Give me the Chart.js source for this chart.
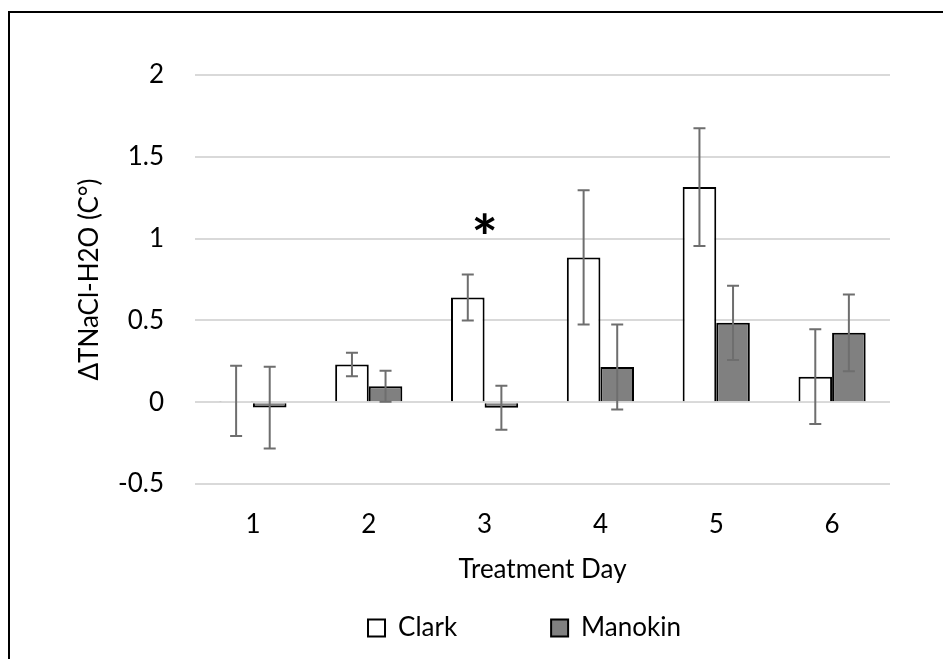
<!DOCTYPE html>
<html>
<head>
<meta charset="utf-8">
<script src="https://cdn.jsdelivr.net/npm/chart.js@4/dist/chart.umd.min.js"></script>
<style>
  html, body { margin: 0; padding: 0; background: #fff; overflow: hidden; }
  #frame { position: absolute; left: 8px; top: 11px; width: 2000px; height: 2000px;
           border-top: 2px solid #000; border-left: 2px solid #000; }
  #chart { position: absolute; left: 0; top: 0; }
</style>
</head>
<body>
<div id="frame"></div>
<canvas id="chart" width="1049" height="651"></canvas>
<script>
// Treatment days on the x axis
const days = ['1', '2', '3', '4', '5', '6'];

// Mean change and error per cultivar
const clarkValues = [0.008, 0.23, 0.64, 0.885, 1.315, 0.156];
const clarkErrors = [0.215, 0.072, 0.14, 0.41, 0.36, 0.29];
const manokinValues = [-0.033, 0.098, -0.034, 0.215, 0.485, 0.424];
const manokinErrors = [0.25, 0.095, 0.135, 0.26, 0.227, 0.235];

// Significance marks
const sigDays = ['3'];
const sigLevels = [1.09];

const fontFamily = 'Lato, "Open Sans", sans-serif';

// Draw the error bars on top of each bar
const errorBars = {
    id: 'errorBars',
    afterDatasetsDraw(chart) {
        const ctx = chart.ctx;
        const yScale = chart.scales.y;
        ctx.save();
        ctx.strokeStyle = '#6e6e6e';
        ctx.lineWidth = 2;
        chart.data.datasets.forEach((ds, i) => {
            const meta = chart.getDatasetMeta(i);
            meta.data.forEach((bar, j) => {
                const v = ds.data[j];
                const e = ds.errors[j];
                const top = yScale.getPixelForValue(v + e);
                const bottom = yScale.getPixelForValue(v - e);
                const x = bar.x;
                ctx.beginPath();
                ctx.moveTo(x, top);
                ctx.lineTo(x, bottom);
                ctx.moveTo(x - 6, top);
                ctx.lineTo(x + 6, top);
                ctx.moveTo(x - 6, bottom);
                ctx.lineTo(x + 6, bottom);
                ctx.stroke();
            });
        });
        ctx.restore();
    }
};

// Asterisk above significant days
const sigMarks = {
    id: 'sigMarks',
    afterDraw(chart) {
        const ctx = chart.ctx;
        ctx.save();
        ctx.fillStyle = '#000';
        ctx.font = 'bold 62px ' + fontFamily;
        ctx.textAlign = 'center';
        ctx.textBaseline = 'alphabetic';
        sigDays.forEach((d, i) => {
            const x = chart.scales.x.getPixelForValue(days.indexOf(d));
            const cy = chart.scales.y.getPixelForValue(sigLevels[i]);
            const m = ctx.measureText('*');
            const y = cy + (m.actualBoundingBoxAscent - m.actualBoundingBoxDescent) / 2;
            ctx.fillText('*', x, y);
        });
        ctx.restore();
    }
};

// Legend items with an empty spacer between them (wider gap, like the original)
function legendLabels(chart) {
    const items = Chart.defaults.plugins.legend.labels.generateLabels(chart);
    items.splice(1, 0, {
        text: '',
        fillStyle: 'transparent',
        strokeStyle: 'transparent',
        lineWidth: 0,
        hidden: false,
        datasetIndex: -1,
    });
    return items;
}

const ctx = document.getElementById('chart').getContext('2d');

new Chart(ctx, {
    type: 'bar',
    data: {
        labels: days,
        datasets: [{
            label: 'Clark',
            data: clarkValues,
            errors: clarkErrors,
            backgroundColor: '#ffffff',
            borderColor: '#000000',
            borderWidth: 2,
        }, {
            label: 'Manokin',
            data: manokinValues,
            errors: manokinErrors,
            backgroundColor: '#808080',
            borderColor: '#000000',
            borderWidth: 2,
        }],
    },
    options: {
        responsive: false,
        animation: false,
        datasets: {
            bar: { categoryPercentage: 0.58, barPercentage: 1 }
        },
        layout: { padding: { top: 75, left: 0, right: 0, bottom: 0 } },
        plugins: {
            tooltip: { enabled: false },
            legend: {
                position: 'bottom',
                labels: {
                    boxWidth: 17,
                    boxHeight: 17,
                    padding: 32,
                    color: '#000',
                    font: { family: fontFamily, size: 26 },
                    generateLabels: legendLabels,
                },
            },
        },
        scales: {
            x: {
                grid: { display: false, drawTicks: false },
                border: { display: false },
                ticks: { color: '#000', padding: 25, font: { family: fontFamily, size: 26 } },
                title: {
                    display: true,
                    text: 'Treatment Day',
                    color: '#000',
                    font: { family: fontFamily, size: 26 },
                    padding: { top: 0, bottom: -2 },
                },
                afterFit: (s) => { s.height = 99; },
            },
            y: {
                min: -0.5,
                max: 2,
                ticks: {
                    stepSize: 0.5,
                    color: '#000',
                    padding: 31,
                    font: { family: fontFamily, size: 26 },
                    callback: (value) => String(value),
                },
                grid: { color: '#d9d9d9', lineWidth: 2, drawTicks: false },
                border: { display: false },
                title: {
                    display: true,
                    text: 'ΔTNaCl-H2O (C°)',
                    color: '#000',
                    font: { family: fontFamily, size: 26 },
                    padding: { top: 74, bottom: 0 },
                },
                afterFit: (s) => { s.width = 195; },
            },
            y2: {
                position: 'right',
                grid: { display: false, drawTicks: false },
                border: { display: false },
                ticks: { display: false },
                afterFit: (s) => { s.width = 159; },
            },
        },
    },
    plugins: [errorBars, sigMarks],
});
</script>
</body>
</html>
